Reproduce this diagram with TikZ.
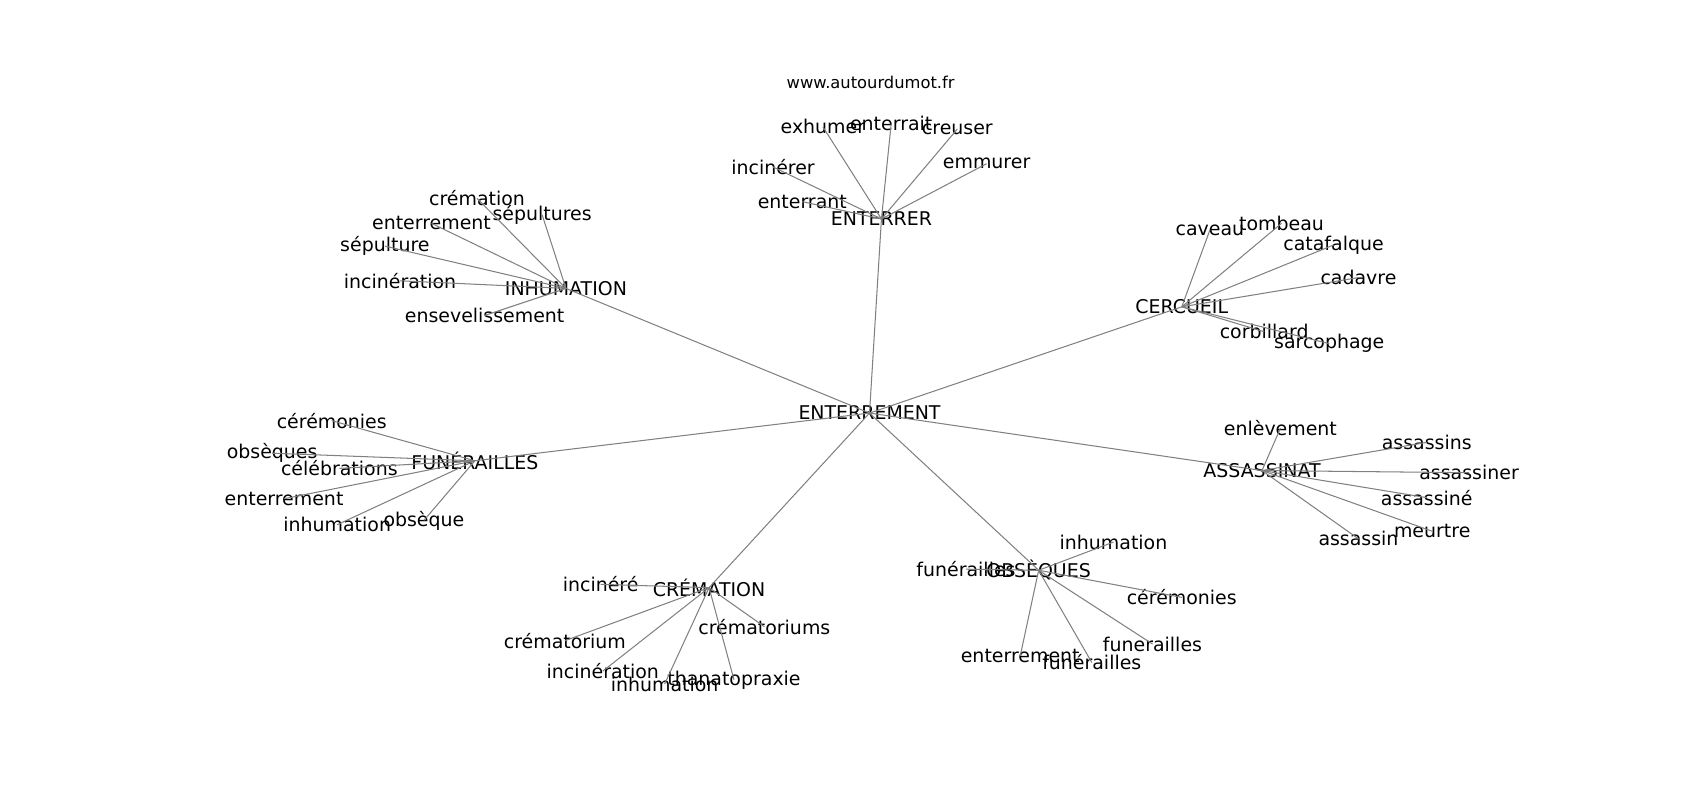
\documentclass[tikz,border=0pt]{standalone}
\usepackage{fontspec}
\setmainfont{DejaVu Sans}

\begin{document}
\begin{tikzpicture}[x=0.010842in,y=-0.010842in,
  every node/.style={inner sep=0pt,font=\fontsize{13.7}{16}\selectfont},
  lien/.style={draw=gray,line width=0.75pt}]
\useasboundingbox (0,0) rectangle (1568,738);
\node[font=\fontsize{11.8}{14}\selectfont] (site) at (803,76) {www.autourdumot.fr};
% centre et mots principaux
\node (ent) at (802,381) {ENTERREMENT};
\node (inh) at (522,266) {INHUMATION};
\node (ert) at (813,202) {ENTERRER};
\node (cer) at (1090,283) {CERCUEIL};
\node (fun) at (438,425) {FUNÉRAILLES};
\node (ass) at (1164,434) {ASSASSINAT};
\node (cre) at (654,542) {CRÉMATION};
\node (obs) at (958,526) {OBSÈQUES};
% INHUMATION
\node (inh1) at (440,183) {crémation};
\node (inh2) at (500,198) {sépultures};
\node (inh3) at (398,206) {enterrement};
\node (inh4) at (355,227) {sépulture};
\node (inh5) at (369,259) {incinération};
\node (inh6) at (447,291) {ensevelissement};
% ENTERRER
\node (ert1) at (759,117) {exhumer};
\node (ert2) at (822,114) {enterrait};
\node (ert3) at (883,119) {creuser};
\node (ert4) at (910,151) {emmurer};
\node (ert5) at (713,154) {incinérer};
\node (ert6) at (740,186) {enterrant};
% CERCUEIL
\node (cer1) at (1116,212) {caveau};
\node (cer2) at (1182,206) {tombeau};
\node (cer3) at (1230,226) {catafalque};
\node (cer4) at (1253,256) {cadavre};
\node (cer5) at (1166,306) {corbillard};
\node (cer6) at (1226,317) {sarcophage};
% FUNÉRAILLES
\node (fun1) at (306,388) {cérémonies};
\node (fun2) at (251,418) {obsèques};
\node (fun3) at (313,432) {célébrations};
\node (fun4) at (262,460) {enterrement};
\node (fun5) at (311,484) {inhumation};
\node (fun6) at (391,480) {obsèque};
% ASSASSINAT
\node (ass1) at (1181,395) {enlèvement};
\node (ass2) at (1316,408) {assassins};
\node (ass3) at (1355,436) {assassiner};
\node (ass4) at (1316,459) {assassiné};
\node (ass5) at (1321,490) {meurtre};
\node (ass6) at (1253,497) {assassin};
% CRÉMATION
\node (cre1) at (554,539) {incinéré};
\node (cre2) at (521,591) {crématorium};
\node (cre3) at (705,578) {crématoriums};
\node (cre4) at (556,619) {incinération};
\node (cre5) at (613,631) {inhumation};
\node (cre6) at (677,627) {thanatopraxie};
% OBSÈQUES
\node (obs1) at (891,525) {funérailles};
\node (obs2) at (1027,500) {inhumation};
\node (obs3) at (1090,551) {cérémonies};
\node (obs4) at (1063,594) {funerailles};
\node (obs5) at (941,605) {enterrement};
\node (obs6) at (1007,611) {funérailles};
% liens
\draw[lien] (ent.center) -- (inh.center);
\draw[lien] (ent.center) -- (ert.center);
\draw[lien] (ent.center) -- (cer.center);
\draw[lien] (ent.center) -- (fun.center);
\draw[lien] (ent.center) -- (ass.center);
\draw[lien] (ent.center) -- (cre.center);
\draw[lien] (ent.center) -- (obs.center);
\draw[lien] (inh.center) -- (inh1.center);
\draw[lien] (inh.center) -- (inh2.center);
\draw[lien] (inh.center) -- (inh3.center);
\draw[lien] (inh.center) -- (inh4.center);
\draw[lien] (inh.center) -- (inh5.center);
\draw[lien] (inh.center) -- (inh6.center);
\draw[lien] (ert.center) -- (ert1.center);
\draw[lien] (ert.center) -- (ert2.center);
\draw[lien] (ert.center) -- (ert3.center);
\draw[lien] (ert.center) -- (ert4.center);
\draw[lien] (ert.center) -- (ert5.center);
\draw[lien] (ert.center) -- (ert6.center);
\draw[lien] (cer.center) -- (cer1.center);
\draw[lien] (cer.center) -- (cer2.center);
\draw[lien] (cer.center) -- (cer3.center);
\draw[lien] (cer.center) -- (cer4.center);
\draw[lien] (cer.center) -- (cer5.center);
\draw[lien] (cer.center) -- (cer6.center);
\draw[lien] (fun.center) -- (fun1.center);
\draw[lien] (fun.center) -- (fun2.center);
\draw[lien] (fun.center) -- (fun3.center);
\draw[lien] (fun.center) -- (fun4.center);
\draw[lien] (fun.center) -- (fun5.center);
\draw[lien] (fun.center) -- (fun6.center);
\draw[lien] (ass.center) -- (ass1.center);
\draw[lien] (ass.center) -- (ass2.center);
\draw[lien] (ass.center) -- (ass3.center);
\draw[lien] (ass.center) -- (ass4.center);
\draw[lien] (ass.center) -- (ass5.center);
\draw[lien] (ass.center) -- (ass6.center);
\draw[lien] (cre.center) -- (cre1.center);
\draw[lien] (cre.center) -- (cre2.center);
\draw[lien] (cre.center) -- (cre3.center);
\draw[lien] (cre.center) -- (cre4.center);
\draw[lien] (cre.center) -- (cre5.center);
\draw[lien] (cre.center) -- (cre6.center);
\draw[lien] (obs.center) -- (obs1.center);
\draw[lien] (obs.center) -- (obs2.center);
\draw[lien] (obs.center) -- (obs3.center);
\draw[lien] (obs.center) -- (obs4.center);
\draw[lien] (obs.center) -- (obs5.center);
\draw[lien] (obs.center) -- (obs6.center);
\end{tikzpicture}
\end{document}
